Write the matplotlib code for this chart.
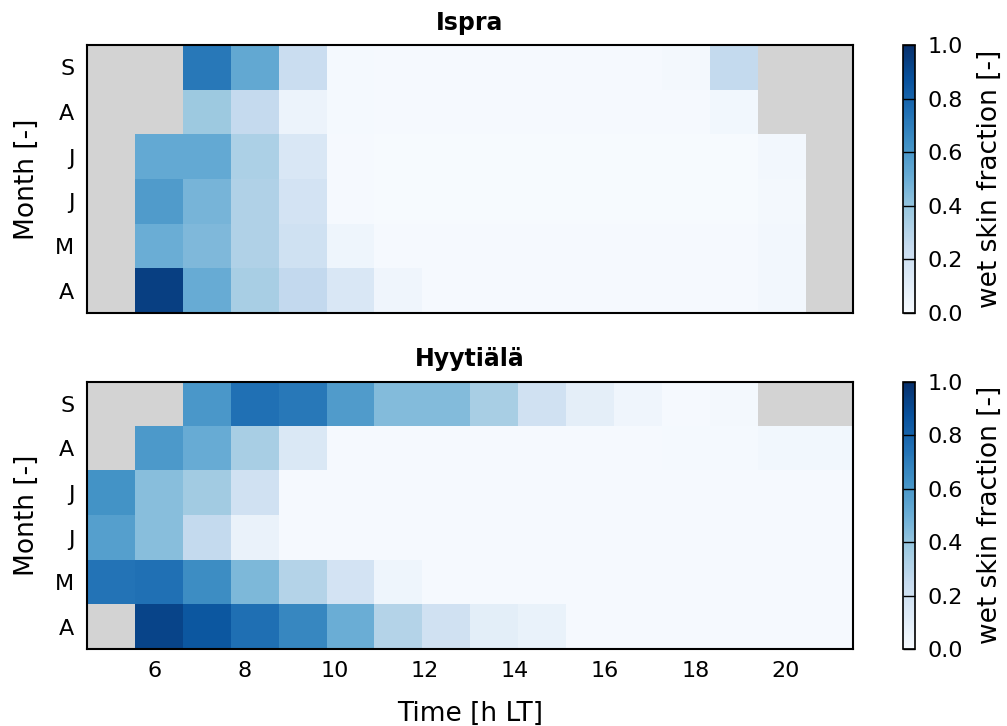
import numpy as np
import matplotlib
matplotlib.use('Agg')
import matplotlib.pyplot as plt

nan = np.nan

# 16 time bins spread over 4.5 .. 21.5 h LT
time_extent = (4.5, 21.5)
month_labels = ['A', 'M', 'J', 'J', 'A', 'S']   # Apr .. Sep, bottom to top
month_ticks = [4, 5, 6, 7, 8, 9]
x_ticks = [6, 8, 10, 12, 14, 16, 18, 20]

# wet skin fraction, rows Apr..Sep
ispra_apr = [nan, 0.94, 0.51, 0.34, 0.26, 0.15, 0.04, 0.01, 0.01, 0.01, 0.01, 0.01, 0.01, 0.01, 0.025, nan]
ispra_may = [nan, 0.50, 0.45, 0.32, 0.20, 0.045, 0.01, 0.01, 0.01, 0.01, 0.01, 0.01, 0.01, 0.01, 0.025, nan]
ispra_jun = [nan, 0.58, 0.47, 0.32, 0.18, 0.01, 0.005, 0.005, 0.005, 0.005, 0.005, 0.005, 0.005, 0.005, 0.02, nan]
ispra_jul = [nan, 0.52, 0.52, 0.33, 0.15, 0.01, 0.005, 0.005, 0.005, 0.005, 0.005, 0.005, 0.005, 0.005, 0.025, nan]
ispra_aug = [nan, nan, 0.375, 0.25, 0.055, 0.015, 0.01, 0.01, 0.01, 0.01, 0.01, 0.01, 0.01, 0.03, nan, nan]
ispra_sep = [nan, nan, 0.72, 0.525, 0.23, 0.015, 0.01, 0.01, 0.01, 0.01, 0.01, 0.01, 0.02, 0.256, nan, nan]

hyy_apr = [nan, 0.92, 0.85, 0.755, 0.667, 0.50, 0.306, 0.198, 0.10, 0.07, 0.01, 0.01, 0.01, 0.01, 0.01, 0.01]
hyy_may = [0.74, 0.75, 0.644, 0.456, 0.306, 0.18, 0.045, 0.01, 0.01, 0.01, 0.01, 0.01, 0.01, 0.01, 0.01, 0.01]
hyy_jun = [0.564, 0.426, 0.255, 0.065, 0.01, 0.01, 0.01, 0.01, 0.01, 0.01, 0.01, 0.01, 0.01, 0.01, 0.01, 0.01]
hyy_jul = [0.62, 0.426, 0.36, 0.198, 0.01, 0.01, 0.01, 0.01, 0.01, 0.01, 0.01, 0.01, 0.01, 0.01, 0.01, 0.01]
hyy_aug = [nan, 0.59, 0.51, 0.34, 0.146, 0.01, 0.01, 0.01, 0.01, 0.01, 0.01, 0.01, 0.015, 0.015, 0.03, 0.03]
hyy_sep = [nan, nan, 0.60, 0.75, 0.72, 0.58, 0.44, 0.44, 0.34, 0.198, 0.095, 0.04, 0.01, 0.02, nan, nan]

stations = [
	('Ispra', [ispra_apr, ispra_may, ispra_jun, ispra_jul, ispra_aug, ispra_sep]),
	('Hyytiälä', [hyy_apr, hyy_may, hyy_jun, hyy_jul, hyy_aug, hyy_sep]),
]

plt.rcParams['font.family'] = 'DejaVu Sans'
plt.rcParams['font.size'] = 16

cmap = plt.get_cmap('Blues').copy()
cmap.set_bad('lightgray')

fig = plt.figure(figsize=(10.07, 7.26), dpi=100)

# [left, bottom, width, height] in figure fractions
ax_rects = [[0.0861, 0.5689, 0.7610, 0.3691], [0.0861, 0.1061, 0.7610, 0.3682]]
cb_rects = [[0.8964, 0.5689, 0.0122, 0.3691], [0.8964, 0.1061, 0.0122, 0.3682]]

for i, (name, rows) in enumerate(stations):
	ax = fig.add_axes(ax_rects[i])
	Z = np.ma.masked_invalid(np.array(rows))
	im = ax.imshow(Z, cmap=cmap, vmin=0, vmax=1, origin='lower', aspect='auto',
		interpolation='nearest', extent=(time_extent[0], time_extent[1], 3.5, 9.5))
	ax.set_xlim(*time_extent)
	ax.set_ylim(3.5, 9.5)
	ax.set_yticks(month_ticks)
	ax.set_yticklabels(month_labels)
	ax.set_xticks(x_ticks)
	ax.tick_params(length=0, pad=9)
	ax.set_ylabel('Month [-]', fontsize=19, labelpad=11)
	ax.set_title(name, fontsize=17, fontweight='bold', pad=11)
	for s in ax.spines.values():
		s.set_linewidth(1.5)
	if i == 0:
		ax.set_xticklabels([])
	else:
		ax.set_xlabel('Time [h LT]', fontsize=19, labelpad=14)

	cax = fig.add_axes(cb_rects[i])
	cb = fig.colorbar(im, cax=cax, ticks=[0.0, 0.2, 0.4, 0.6, 0.8, 1.0])
	cb.ax.set_yticklabels(['0.0', '0.2', '0.4', '0.6', '0.8', '1.0'])
	cb.ax.tick_params(direction='in', length=9, width=1, color='black', pad=9)
	cb.outline.set_linewidth(1.2)
	cb.set_label('wet skin fraction [-]', fontsize=19, labelpad=10)

fig.savefig('out.png', dpi=100)
